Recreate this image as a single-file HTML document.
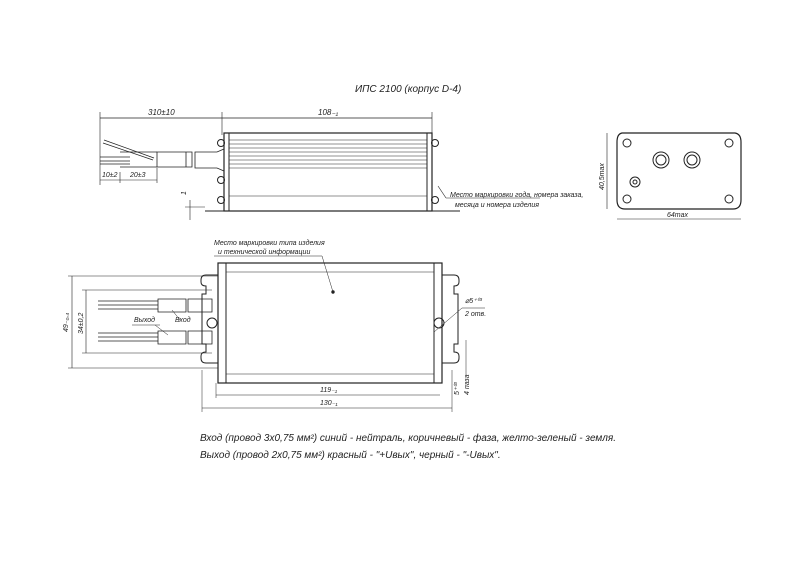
<!DOCTYPE html>
<html><head><style>
html,body{margin:0;padding:0;background:#fff}
svg{display:block}
text{font-family:"Liberation Sans","Noto Sans CJK SC",sans-serif;font-style:italic;fill:#222}
</style></head><body>
<svg width="800" height="565" viewBox="0 0 800 565" xmlns="http://www.w3.org/2000/svg" stroke="#222" fill="none" stroke-width="1">
<text x="355" y="92" font-size="10" stroke="none">ИПС 2100 (корпус D-4)</text>

<!-- TOP VIEW -->
<g>
<line x1="100" y1="118" x2="222" y2="118" stroke-width="0.7"/>
<line x1="222" y1="118" x2="432" y2="118" stroke-width="0.7"/>
<line x1="100" y1="112" x2="100" y2="185" stroke-width="0.6"/>
<line x1="222" y1="112" x2="222" y2="135" stroke-width="0.6"/>
<line x1="432" y1="112" x2="432" y2="135" stroke-width="0.6"/>
<text x="148" y="115" font-size="8" stroke="none">310±10</text>
<text x="318" y="115" font-size="8" stroke="none">108₋₁</text>
<!-- body -->
<rect x="224" y="133" width="208" height="78" stroke-width="1.2"/>
<rect x="224" y="133" width="5" height="78" stroke-width="1"/>
<rect x="427" y="133" width="5" height="78" stroke-width="1"/>
<g stroke-width="0.6">
<line x1="229" y1="140" x2="427" y2="140"/><line x1="229" y1="144" x2="427" y2="144"/>
<line x1="229" y1="148" x2="427" y2="148"/><line x1="229" y1="152" x2="427" y2="152"/>
<line x1="229" y1="156" x2="427" y2="156"/><line x1="229" y1="160" x2="427" y2="160"/>
<line x1="229" y1="164" x2="427" y2="164"/><line x1="229" y1="168" x2="427" y2="168"/>
<line x1="229" y1="196" x2="427" y2="196"/>
</g>
<circle cx="221" cy="143" r="3.5"/><circle cx="221" cy="180" r="3.5"/><circle cx="221" cy="200" r="3.5"/>
<circle cx="435" cy="143" r="3.5"/><circle cx="435" cy="200" r="3.5"/>
<!-- cable -->
<path d="M157 152 h35 v15 h-35 z M186 152 v15 M195 152 h22 l7 -3 v22 l-7 -3 h-22 z" stroke-width="0.8"/>
<path d="M100 157 h30 M100 161 h30 M100 164 h30 M120 152 h37 M120 167 h37" stroke-width="0.7"/>
<path d="M103 143 l50 17 M104 140 l50 18" stroke-width="0.7"/>
<line x1="100" y1="180" x2="157" y2="180" stroke-width="0.6"/>
<text x="102" y="177" font-size="7" stroke="none">10±2</text>
<text x="130" y="177" font-size="7" stroke="none">20±3</text>
<line x1="120" y1="172" x2="120" y2="183" stroke-width="0.6"/>
<line x1="157" y1="168" x2="157" y2="183" stroke-width="0.6"/>
<!-- feet -->
<path d="M205 211 h19 M432 211 h28" stroke-width="1"/>
<line x1="190" y1="200" x2="190" y2="220" stroke-width="0.6"/>
<line x1="185" y1="207" x2="205" y2="207" stroke-width="0.5"/>
<text x="186" y="195" font-size="7" stroke="none" transform="rotate(-90 186 195)">1</text>
<line x1="438" y1="186" x2="446" y2="198" stroke-width="0.6"/>
<line x1="446" y1="198" x2="540" y2="198" stroke-width="0.6"/>
<text x="450" y="197" font-size="7" stroke="none">Место маркировки года, номера заказа,</text>
<text x="455" y="207" font-size="7" stroke="none">месяца и номера изделия</text>
</g>

<!-- END VIEW -->
<g>
<path d="M622 133 L735 133 Q741 134 741 142 L741 200 Q741 209 733 209 L625 209 Q617 209 617 200 L617 142 Q617 134 622 133 Z" stroke-width="1.2"/>
<circle cx="627" cy="143" r="4"/><circle cx="729" cy="143" r="4"/>
<circle cx="627" cy="199" r="4"/><circle cx="729" cy="199" r="4"/>
<circle cx="661" cy="160" r="8"/><circle cx="661" cy="160" r="5"/>
<circle cx="692" cy="160" r="8"/><circle cx="692" cy="160" r="5"/>
<circle cx="635" cy="182" r="5"/><circle cx="635" cy="182" r="2"/>
<line x1="607" y1="133" x2="607" y2="209" stroke-width="0.6"/>
<text x="604" y="190" font-size="7" stroke="none" transform="rotate(-90 604 190)">40,5max</text>
<line x1="617" y1="219" x2="741" y2="219" stroke-width="0.6"/>
<text x="667" y="217" font-size="7" stroke="none">64max</text>
</g>

<!-- BOTTOM VIEW -->
<g>
<rect x="218" y="263" width="224" height="120" stroke-width="1.2"/>
<rect x="218" y="263" width="8" height="120" stroke-width="1"/>
<rect x="434" y="263" width="8" height="120" stroke-width="1"/>
<line x1="226" y1="272" x2="434" y2="272" stroke-width="0.6"/>
<line x1="226" y1="374" x2="434" y2="374" stroke-width="0.6"/>
<path d="M218 275 h-12 q-5 0 -5 5 v2 q0 4 5 4 v8 h-4 v50 h4 v8 q-5 0 -5 4 v2 q0 5 5 5 h12" stroke-width="1"/>
<path d="M442 275 h12 q5 0 5 5 v2 q0 4 -5 4 v8 h4 v50 h-4 v8 q5 0 5 4 v2 q0 5 -5 5 h-12" stroke-width="1"/>
<circle cx="212" cy="323" r="5"/>
<circle cx="439" cy="323" r="5"/>
<!-- cables -->
<path d="M98 301 h60 M98 305 h60 M98 309 h60 M158 299 h28 v13 h-28 z M188 299 h14 v13 h-14 z" stroke-width="0.8"/>
<path d="M98 333 h60 M98 337 h60 M98 341 h60 M158 331 h28 v13 h-28 z M188 331 h14 v13 h-14 z" stroke-width="0.8"/>
<path d="M202 299 h10 v13 h-10 M202 331 h10 v13 h-10" stroke-width="0.8"/>
<text x="134" y="322" font-size="7" stroke="none">Выход</text>
<text x="175" y="322" font-size="7" stroke="none">Вход</text>
<line x1="132" y1="325" x2="160" y2="325" stroke-width="0.5"/>
<line x1="155" y1="325" x2="168" y2="335" stroke-width="0.5"/>
<line x1="172" y1="310" x2="180" y2="320" stroke-width="0.5"/>
<!-- dims -->
<line x1="72" y1="276" x2="72" y2="368" stroke-width="0.6"/>
<line x1="86" y1="290" x2="86" y2="353" stroke-width="0.6"/>
<line x1="68" y1="276" x2="218" y2="276" stroke-width="0.5"/>
<line x1="68" y1="368" x2="218" y2="368" stroke-width="0.5"/>
<line x1="82" y1="290" x2="212" y2="290" stroke-width="0.5"/>
<line x1="82" y1="353" x2="212" y2="353" stroke-width="0.5"/>
<text x="68" y="332" font-size="7" stroke="none" transform="rotate(-90 68 332)">49₋₀,₄</text>
<text x="83" y="334" font-size="7" stroke="none" transform="rotate(-90 83 334)">34±0,2</text>
<line x1="216" y1="395" x2="440" y2="395" stroke-width="0.6"/>
<line x1="202" y1="408" x2="452" y2="408" stroke-width="0.6"/>
<line x1="216" y1="383" x2="216" y2="398" stroke-width="0.5"/>
<line x1="202" y1="370" x2="202" y2="412" stroke-width="0.5"/>
<line x1="452" y1="370" x2="452" y2="412" stroke-width="0.5"/>
<text x="320" y="392" font-size="7" stroke="none">119₋₁</text>
<text x="320" y="405" font-size="7" stroke="none">130₋₁</text>
<text x="214" y="245" font-size="7" stroke="none">Место маркировки типа изделия</text>
<text x="218" y="254" font-size="7" stroke="none">и технической информации</text>
<line x1="214" y1="256" x2="322" y2="256" stroke-width="0.5"/>
<line x1="322" y1="256" x2="333" y2="292" stroke-width="0.5"/>
<circle cx="333" cy="292" r="1.2" fill="#222"/>
<line x1="434" y1="332" x2="462" y2="308" stroke-width="0.5"/>
<line x1="462" y1="308" x2="485" y2="308" stroke-width="0.5"/>
<text x="465" y="303" font-size="7" stroke="none">⌀5⁺⁰³</text>
<text x="465" y="316" font-size="7" stroke="none">2 отв.</text>
<line x1="466" y1="340" x2="466" y2="375" stroke-width="0.5"/>
<text x="459" y="395" font-size="7" stroke="none" transform="rotate(-90 459 395)">5⁺⁰³</text>
<text x="469" y="395" font-size="7" stroke="none" transform="rotate(-90 469 395)">4 паза</text>
</g>

<text x="200" y="441" font-size="10" stroke="none">Вход (провод 3х0,75 мм²) синий - нейтраль, коричневый - фаза, желто-зеленый - земля.</text>
<text x="200" y="458" font-size="10" stroke="none">Выход (провод 2х0,75 мм²) красный - "+Uвых", черный - "-Uвых".</text>
</svg>
</body></html>
